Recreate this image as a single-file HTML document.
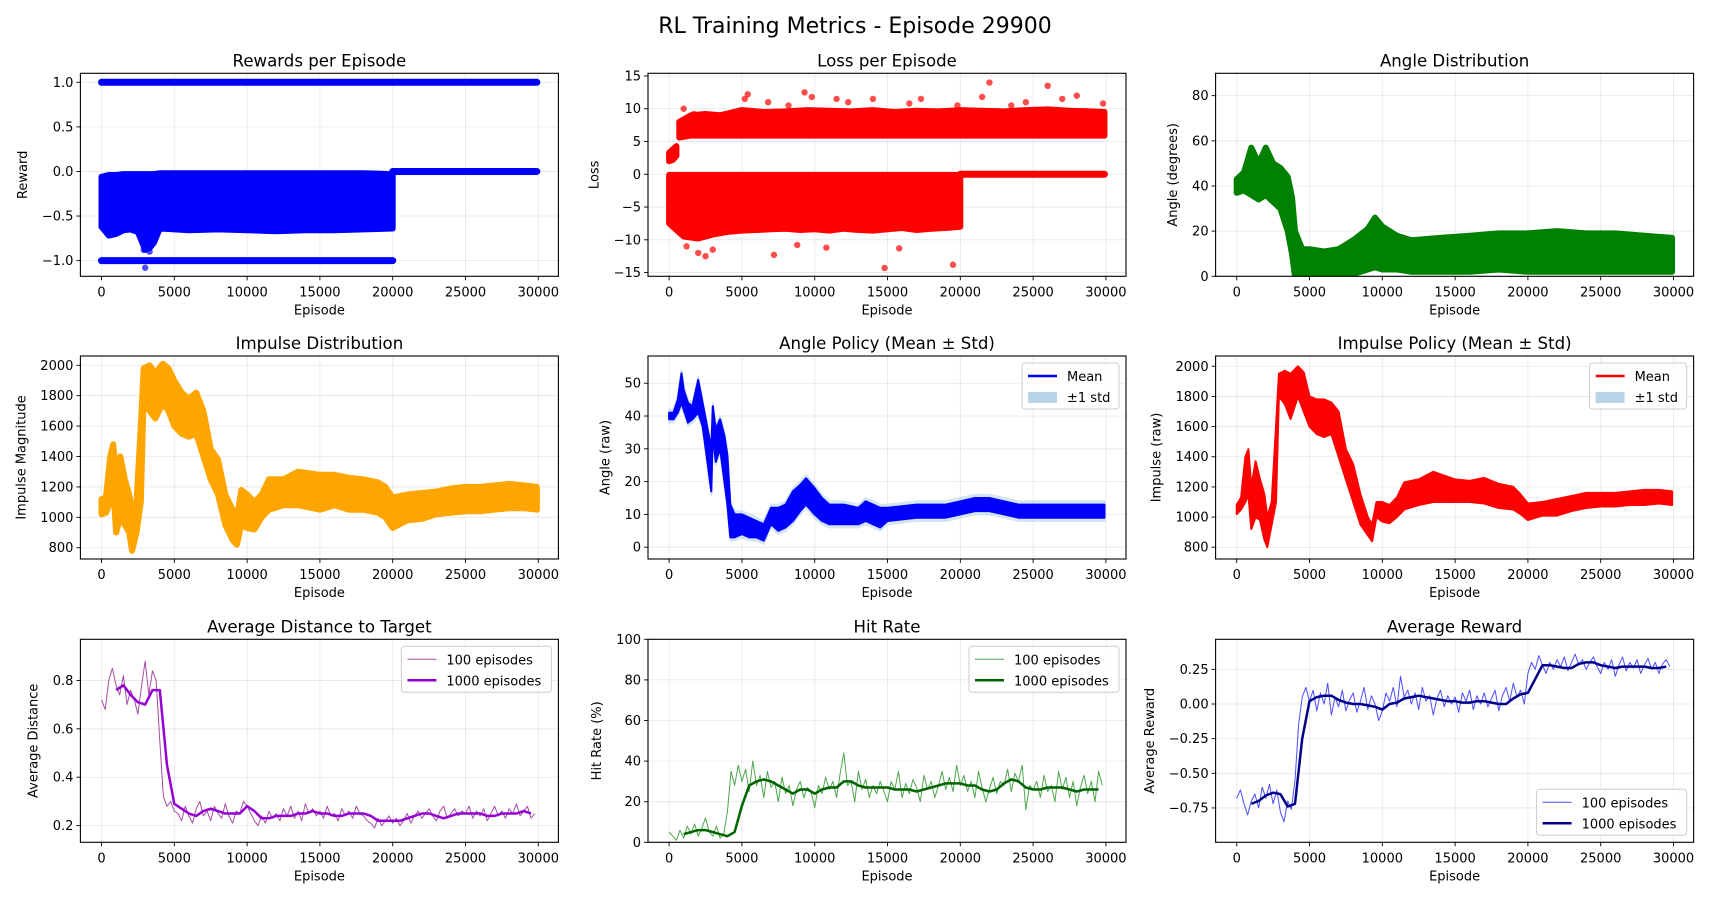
<!DOCTYPE html>
<html><head><meta charset="utf-8"><style>
html,body{margin:0;padding:0;background:#fff;}
svg{display:block;font-family:"DejaVu Sans","Liberation Sans",sans-serif;}
</style></head><body>
<svg id="fig" width="1710" height="900" viewBox="0 0 1710 900">
<text x="855" y="33" text-anchor="middle" font-size="22" fill="#000">RL Training Metrics - Episode 29900</text>
</svg>
<script>
// ---------- data ----------
const xTicks=[0,5000,10000,15000,20000,25000,30000];
// Rewards
const rewardLevelStart=[0,0,20000];
const rewardLevelEnd=[29900,20000,29900];
const rewardLevelValue=[1,-1,0];
const rewardEnvEp=[0,500,1000,1500,2000,2500,2800,3000,3300,3600,4000,6000,8000,10000,12000,14000,16000,18000,20000];
const rewardEnvHi=[-0.06,-0.04,-0.04,-0.03,-0.03,-0.03,-0.03,-0.03,-0.03,-0.03,-0.02,-0.02,-0.02,-0.02,-0.02,-0.02,-0.02,-0.02,-0.03];
const rewardEnvLo=[-0.62,-0.72,-0.70,-0.66,-0.65,-0.68,-0.80,-0.88,-0.86,-0.80,-0.64,-0.66,-0.65,-0.66,-0.67,-0.66,-0.66,-0.65,-0.64];
const rewardOutEp=[3000,2900,3300];
const rewardOutVal=[-1.08,-0.88,-0.9];
// Loss
const lossWarmEp=[0,250,500];
const lossWarmLo=[2.0,2.2,2.8];
const lossWarmHi=[3.3,3.8,4.3];
const lossUpEp=[700,1500,2500,3500,5000,6500,8000,9500,11000,12500,14000,15500,17000,18500,20000,21500,23000,24500,26000,27500,29000,29900];
const lossUpLo=[5.6,5.9,5.9,5.9,5.9,5.9,5.9,5.9,5.9,5.9,5.9,5.9,5.9,5.9,5.9,5.9,5.9,5.9,5.9,5.9,5.9,5.9];
const lossUpHi=[8.0,9.0,9.2,9.0,9.8,9.5,9.6,9.8,9.7,9.6,9.8,9.5,9.7,9.6,9.8,9.7,9.6,9.8,9.9,9.7,9.6,9.5];
const lossLowEp=[0,1000,2000,3000,4000,5000,6000,7000,8000,9000,10000,11000,12000,13000,14000,15000,16000,17000,18000,19000,20000];
const lossLowHi=[-0.1,-0.1,-0.1,-0.1,-0.1,-0.1,-0.1,-0.1,-0.1,-0.1,-0.1,-0.1,-0.1,-0.1,-0.1,-0.1,-0.1,-0.1,-0.1,-0.1,-0.1];
const lossLowLo=[-7.5,-9.5,-9.8,-9.2,-8.8,-8.6,-8.5,-8.4,-8.3,-8.5,-8.4,-8.6,-8.3,-8.5,-8.6,-8.4,-8.2,-8.5,-8.3,-8.2,-8.0];
const lossOutEp=[1000,1700,5200,5400,6800,8200,9300,9800,11500,12300,14000,16500,17300,19800,21500,22000,23500,24500,26000,27000,28000,29800,1200,2000,2500,3000,7200,10800,14800,19500,15800,8800];
const lossOutVal=[10,9.2,11.5,12.2,11,10.5,12.5,11.8,11.5,11,11.5,10.8,11.5,10.5,11.8,14,10.5,11,13.5,11.5,12,10.8,-11,-12,-12.5,-11.5,-12.3,-11.2,-14.3,-13.8,-11.3,-10.8];
// Angle distribution
const angEp=[0,500,1000,1500,2000,2500,3000,3500,3800,4000,4500,5000,6000,7000,8000,9000,9500,10000,11000,12000,14000,16000,18000,20000,22000,24000,26000,28000,29900];
const angLo=[37,38,36,34,36,33,30,20,10,0,0,0,0,0,1,3,4,3,3,2,2,2,3,2,2,2,2,2,2];
const angHi=[43,46,57,50,57,50,48,44,35,20,12,12,11,12,16,21,26,22,18,16,17,18,19,19,20,19,19,18,17];
// Impulse distribution
const impEp=[0,300,600,800,1000,1300,1600,1900,2100,2400,2700,2900,3300,3700,4200,4600,5000,5500,6000,6500,7000,7500,8000,8500,9000,9300,9600,10000,10500,11000,11500,12500,13500,15000,16000,17000,18000,19000,19500,20000,21000,22000,23000,24000,25000,26000,27000,28000,29000,29900];
const impLo=[1020,1030,1100,1200,900,1000,950,900,780,900,1100,1800,1700,1650,1750,1700,1600,1550,1530,1550,1400,1250,1150,950,850,820,950,930,920,1000,1050,1080,1080,1050,1080,1050,1050,1030,1000,930,980,990,1020,1030,1040,1040,1050,1060,1060,1050];
const impHi=[1120,1130,1400,1480,1300,1400,1250,1150,1050,1100,1600,1980,2000,1950,2010,1980,1900,1820,1780,1820,1700,1450,1380,1150,1050,1000,1180,1150,1100,1150,1250,1250,1300,1280,1280,1260,1250,1230,1200,1130,1150,1160,1170,1190,1200,1200,1210,1220,1210,1200];
// Angle policy
const apEp=[0,300,600,850,1000,1300,1600,2000,2300,2600,2900,3000,3200,3500,3800,4000,4200,4500,5000,5500,6000,6500,7000,7500,8000,8500,9000,9400,10000,10500,11000,12000,13000,13500,14500,15000,17000,19000,20000,21000,22000,23000,24000,25000,27000,29900];
const apLo=[39,39,41,44,42,38,39,41,37,27,17,35,26,30,20,13,3,3,4,3,3,2,7,5,6,8,11,13,10,8,7,7,7,8,6,8,9,9,10,11,11,10,9,9,9,9];
const apHi=[41,41,45,53,48,44,43,51,44,37,30,43,36,39,34,28,13,10,10,9,8,7,12,12,13,17,19,21,18,15,13,13,12,14,12,12,13,13,14,15,15,14,13,13,13,13];
// Impulse policy
const ipEp=impEp;
const ipLo=[1020,1050,1100,1150,920,1000,980,850,800,950,1100,1800,1750,1650,1800,1700,1600,1550,1530,1550,1400,1250,1100,950,880,840,1000,970,960,1000,1050,1080,1100,1100,1100,1090,1060,1050,1020,980,1010,1010,1040,1060,1070,1070,1080,1080,1090,1080];
const ipHi=[1080,1130,1400,1450,1200,1370,1250,1150,1000,1100,1600,1950,1970,1950,2000,1960,1800,1780,1780,1760,1700,1450,1350,1150,1000,950,1100,1100,1080,1130,1230,1250,1300,1250,1240,1260,1220,1200,1150,1090,1100,1120,1140,1160,1160,1160,1170,1180,1180,1170];
// Rolling series (100-ep every 250 from 0; 1000-ep every 500 from 1000)
const dist100=[0.72,0.68,0.80,0.85,0.78,0.74,0.82,0.70,0.76,0.72,0.66,0.78,0.88,0.74,0.84,0.80,
0.55,0.32,0.28,0.30,
0.26,0.25,0.22,0.28,0.24,0.21,0.27,0.30,0.24,0.26,0.22,0.28,0.25,0.23,0.29,0.24,0.21,0.26,0.25,0.30,
0.28,0.25,0.22,0.20,0.24,0.21,0.26,0.23,0.25,0.22,0.27,0.24,0.28,0.23,0.26,0.22,0.29,0.25,0.27,0.24,
0.26,0.23,0.28,0.24,0.25,0.22,0.27,0.24,0.26,0.23,0.28,0.25,0.24,0.22,0.21,0.19,0.23,0.20,0.22,0.24,
0.21,0.23,0.20,0.22,0.25,0.21,0.24,0.26,0.23,0.25,0.27,0.24,0.22,0.26,0.28,0.23,0.25,0.27,0.24,0.26,
0.25,0.28,0.23,0.26,0.24,0.27,0.22,0.25,0.28,0.24,0.26,0.23,0.27,0.25,0.29,0.24,0.26,0.28,0.23,0.25];
const dist1000=[0.76,0.78,0.74,0.71,0.70,0.76,0.76,0.45,0.29,0.27,0.25,0.24,0.26,0.27,0.26,0.25,0.25,0.25,0.28,0.26,0.23,0.23,0.24,0.24,0.24,0.25,0.25,0.26,0.25,0.25,0.24,0.24,0.25,0.25,0.25,0.24,0.22,0.22,0.22,0.22,0.23,0.24,0.25,0.25,0.24,0.23,0.24,0.25,0.25,0.25,0.25,0.24,0.24,0.25,0.25,0.25,0.26,0.25];
const hit100=[5,3,1,6,2,8,4,9,3,7,12,5,3,8,2,4,
15,35,28,38,
30,36,25,40,28,33,22,35,27,30,20,32,24,28,18,26,30,22,27,25,
17,28,24,32,26,30,22,34,44,28,30,20,35,26,31,22,28,24,30,25,
20,30,26,35,22,29,24,31,27,20,33,26,30,22,28,35,26,32,25,38,
28,33,25,30,22,35,27,20,26,32,24,30,28,36,25,34,30,38,16,28,
26,30,22,33,25,28,20,35,26,32,22,30,18,27,33,24,30,20,35,28];
const hit1000=[4,5,6,6,5,4,3,5,18,28,30,31,30,28,26,24,26,26,24,26,27,27,30,30,28,27,27,27,27,26,26,26,25,26,27,28,29,29,29,28,28,26,25,26,29,31,30,27,26,26,27,27,27,26,25,26,26,26];
const rew100=[-0.68,-0.62,-0.72,-0.80,-0.70,-0.65,-0.75,-0.60,-0.68,-0.58,-0.72,-0.62,-0.78,-0.85,-0.70,-0.76,
-0.55,-0.15,0.05,0.12,
0.02,0.10,-0.05,0.08,0.0,0.15,-0.08,0.05,-0.02,0.10,-0.05,0.03,0.08,-0.06,0.02,0.12,-0.04,0.06,0.0,-0.12,
-0.05,0.08,0.02,0.12,-0.02,0.20,0.05,0.10,0.0,0.08,-0.04,0.12,0.02,0.06,-0.08,0.04,0.10,-0.02,0.06,0.0,
0.05,-0.06,0.08,0.02,0.10,-0.04,0.06,0.0,0.08,-0.02,0.04,0.10,-0.05,0.06,0.12,0.02,0.15,0.05,0.10,0.0,
0.22,0.30,0.25,0.35,0.28,0.22,0.30,0.25,0.32,0.27,0.34,0.24,0.30,0.36,0.28,0.32,0.25,0.30,0.34,0.27,
0.22,0.30,0.25,0.32,0.20,0.28,0.34,0.24,0.30,0.26,0.32,0.22,0.28,0.33,0.25,0.30,0.22,0.29,0.32,0.27];
const rew1000=[-0.72,-0.70,-0.66,-0.64,-0.65,-0.74,-0.72,-0.25,0.02,0.05,0.06,0.06,0.03,0.01,0.0,0.0,-0.01,-0.02,-0.04,0.0,0.01,0.04,0.05,0.06,0.05,0.04,0.03,0.02,0.02,0.01,0.01,0.02,0.02,0.01,0.0,0.0,0.04,0.07,0.08,0.18,0.28,0.28,0.27,0.26,0.26,0.29,0.30,0.30,0.28,0.27,0.26,0.27,0.27,0.27,0.27,0.26,0.26,0.27];

// ---------- helpers ----------
const NS='http://www.w3.org/2000/svg';
const fig=document.getElementById('fig');
function el(tag,attrs,parent){const e=document.createElementNS(NS,tag);for(const k in attrs)e.setAttribute(k,attrs[k]);(parent||fig).appendChild(e);return e;}
const colL=[80.4,648,1215.6], rowT=[73.3,356,639.3], AW=478, AH=203;
const XMIN=-1450, XMAX=31380;
function fmt(v,dec){let s=v.toFixed(dec);return s.replace('-','\u2212');}
function makeAxes(col,row,ylim,yTicks,dec,title,ylabel,name){
  const L=colL[col],T=rowT[row];
  const g=el('g',{});
  
  
  const x=v=>L+(v-XMIN)/(XMAX-XMIN)*AW;
  const y=v=>T+AH-(v-ylim[0])/(ylim[1]-ylim[0])*AH;
  for(const t of xTicks){const l=el('line',{x1:x(t),x2:x(t),y1:T,y2:T+AH,stroke:'#b0b0b0','stroke-opacity':0.3,'stroke-width':0.8},g);
    
    }
  for(const t of yTicks){const l=el('line',{x1:L,x2:L+AW,y1:y(t),y2:y(t),stroke:'#b0b0b0','stroke-opacity':0.3,'stroke-width':0.8},g);
    
    }
  const plot=el('g',{},g);
  const cid='c'+col+row;
  const cp=el('clipPath',{id:cid},g);el('rect',{x:L,y:T,width:AW,height:AH},cp);
  plot.setAttribute('clip-path','url(#'+cid+')');
  
  
  const over=el('g',{},g);
  const fr=el('rect',{x:L,y:T,width:AW,height:AH,fill:'none',stroke:'#000','stroke-width':1.1},over);
  
  
  for(const t of xTicks){el('line',{x1:x(t),x2:x(t),y1:T+AH,y2:T+AH+4,stroke:'#000','stroke-width':0.9},over);
    const tx=el('text',{x:x(t),y:T+AH+20,'text-anchor':'middle','font-size':13},over);tx.textContent=String(t);
    
    }
  let maxw=0;
  for(const t of yTicks){el('line',{x1:L-4,x2:L,y1:y(t),y2:y(t),stroke:'#000','stroke-width':0.9},over);
    const tx=el('text',{x:L-7,y:y(t)+4.5,'text-anchor':'end','font-size':13},over);tx.textContent=fmt(t,dec);
    
    
    maxw=Math.max(maxw,tx.getComputedTextLength());}
  const tt=el('text',{x:L+AW/2,y:T-7,'text-anchor':'middle','font-size':16.6},over);tt.textContent=title;
  
  
  const xl=el('text',{x:L+AW/2,y:T+AH+38,'text-anchor':'middle','font-size':13},over);xl.textContent='Episode';
  
  
  const lx=L-maxw-22;
  const yl=el('text',{x:lx,y:T+AH/2,'text-anchor':'middle','font-size':13,transform:`rotate(-90 ${lx} ${T+AH/2})`},over);yl.textContent=ylabel;
  
  
  return {x,y,plot,over,L,T};
}
function band(ax,eps,lo,hi,color,sw,name,op){
  let d='M'+eps.map((e,i)=>ax.x(e).toFixed(1)+','+ax.y(hi[i]).toFixed(1)).join('L');
  d+='L'+eps.map((e,i)=>ax.x(e).toFixed(1)+','+ax.y(lo[i]).toFixed(1)).reverse().join('L')+'Z';
  const p=el('path',{d,fill:color,stroke:color,'stroke-width':sw,'stroke-linejoin':'round',opacity:op||1},ax.plot);
  
  
}
function dots(ax,eps,vals,color,name){
  eps.forEach((e,i)=>{const c=el('circle',{cx:ax.x(e),cy:ax.y(vals[i]),r:3.2,fill:color,opacity:0.7},ax.plot);
    
    });
}
function series(ax,start,step,vals,color,w,op,name){
  const pts=vals.map((v,i)=>ax.x(start+step*i).toFixed(1)+','+ax.y(v).toFixed(1)).join(' ');
  const p=el('polyline',{points:pts,fill:'none',stroke:color,'stroke-width':w,'stroke-opacity':op,'stroke-linejoin':'round'},ax.plot);
  
  
}
function legend(ax,items,pos){
  const bw=items[0].w, bh=46;
  const bx=ax.L+AW-7-bw, by=pos==='lower'?ax.T+AH-7-bh:ax.T+7;
  const g=el('g',{},ax.over);
  
  
  el('rect',{x:bx,y:by,width:bw,height:bh,rx:3,fill:'#fff','fill-opacity':0.8,stroke:'#cccccc','stroke-width':1},g);
  items.forEach((it,i)=>{const cy=by+13+i*21;
    const eg=el('g',{},g);
    
    
    if(it.patch) el('rect',{x:bx+6,y:cy-5,width:29,height:11,fill:'#b8d4e8'},eg);
    else el('line',{x1:bx+6,x2:bx+35,y1:cy,y2:cy,stroke:it.color,'stroke-width':it.w2,'stroke-opacity':it.op},eg);
    const t=el('text',{x:bx+45,y:cy+5,'font-size':13},eg);t.textContent=it.label;});
}

// ---------- charts ----------
let ax=makeAxes(0,0,[-1.176,1.101],[-1.0,-0.5,0.0,0.5,1.0],1,'Rewards per Episode','Reward','rewards-chart');
rewardLevelValue.forEach((v,i)=>{const l=el('line',{x1:ax.x(rewardLevelStart[i]),x2:ax.x(rewardLevelEnd[i]),y1:ax.y(v),y2:ax.y(v),stroke:'#0000ff','stroke-width':7,'stroke-linecap':'round'},ax.plot);
  
  });
band(ax,rewardEnvEp,rewardEnvLo,rewardEnvHi,'#0000ff',6,'reward-scatter-band');
dots(ax,rewardOutEp,rewardOutVal,'#0000ff','reward-outlier');

ax=makeAxes(1,0,[-15.57,15.41],[-15,-10,-5,0,5,10,15],0,'Loss per Episode','Loss','loss-chart');
band(ax,lossWarmEp,lossWarmLo,lossWarmHi,'#ff0000',6,'loss-warmup-band');
band(ax,lossUpEp,lossUpLo,lossUpHi,'#ff0000',6,'loss-upper-band');
band(ax,lossLowEp,lossLowLo,lossLowHi,'#ff0000',6,'loss-lower-band');
{const l=el('line',{x1:ax.x(20000),x2:ax.x(29900),y1:ax.y(0),y2:ax.y(0),stroke:'#ff0000','stroke-width':7,'stroke-linecap':'round'},ax.plot);

}
dots(ax,lossOutEp,lossOutVal,'#ff0000','loss-outlier');

ax=makeAxes(2,0,[0,89.9],[0,20,40,60,80],0,'Angle Distribution','Angle (degrees)','angle-distribution-chart');
band(ax,angEp,angLo,angHi,'#008000',6,'angle-scatter-band');

ax=makeAxes(0,1,[726,2061],[800,1000,1200,1400,1600,1800,2000],0,'Impulse Distribution','Impulse Magnitude','impulse-distribution-chart');
band(ax,impEp,impLo,impHi,'#ffa500',6,'impulse-scatter-band');

ax=makeAxes(1,1,[-3.6,58.3],[0,10,20,30,40,50],0,'Angle Policy (Mean \u00b1 Std)','Angle (raw)','angle-policy-chart');
band(ax,apEp,apLo.map(v=>v-1),apHi.map(v=>v+1),'#b8d4e8',2,'angle-std-band',0.6);
band(ax,apEp,apLo,apHi,'#0000ff',2,'angle-mean-line');
legend(ax,[{w:97,label:'Mean',color:'#0000ff',w2:2.5,op:1},{label:'\u00b11 std',patch:true}],'upper');

ax=makeAxes(2,1,[722,2068],[800,1000,1200,1400,1600,1800,2000],0,'Impulse Policy (Mean \u00b1 Std)','Impulse (raw)','impulse-policy-chart');
band(ax,ipEp,ipLo,ipHi,'#ff0000',2,'impulse-mean-line');
legend(ax,[{w:97,label:'Mean',color:'#ff0000',w2:2.5,op:1},{label:'\u00b11 std',patch:true}],'upper');

ax=makeAxes(0,2,[0.131,0.97],[0.2,0.4,0.6,0.8],1,'Average Distance to Target','Average Distance','distance-chart');
series(ax,0,250,dist100,'#800080',1,0.7,'distance-100-line');
series(ax,1000,500,dist1000,'#9400d3',2.5,1,'distance-1000-line');
legend(ax,[{w:150,label:'100 episodes',color:'#800080',w2:1,op:0.7},{label:'1000 episodes',color:'#9400d3',w2:2.5,op:1}],'upper');

ax=makeAxes(1,2,[0,100],[0,20,40,60,80,100],0,'Hit Rate','Hit Rate (%)','hit-rate-chart');
series(ax,0,250,hit100,'#008000',1,0.7,'hit-100-line');
series(ax,1000,500,hit1000,'#006400',2.5,1,'hit-1000-line');
legend(ax,[{w:150,label:'100 episodes',color:'#008000',w2:1,op:0.7},{label:'1000 episodes',color:'#006400',w2:2.5,op:1}],'upper');

ax=makeAxes(2,2,[-0.998,0.467],[-0.75,-0.5,-0.25,0.0,0.25],2,'Average Reward','Average Reward','avg-reward-chart');
series(ax,0,250,rew100,'#0000ff',1,0.7,'reward-100-line');
series(ax,1000,500,rew1000,'#00008b',2.5,1,'reward-1000-line');
legend(ax,[{w:150,label:'100 episodes',color:'#0000ff',w2:1,op:0.7},{label:'1000 episodes',color:'#00008b',w2:2.5,op:1}],'lower');
</script>
</body></html>
